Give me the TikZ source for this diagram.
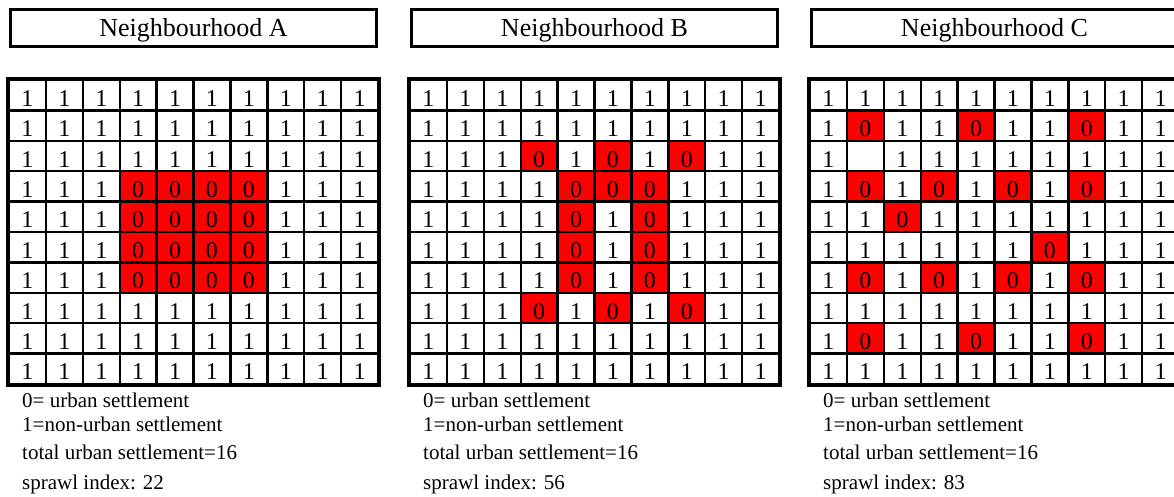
\documentclass[tikz,border=0pt]{standalone}
\usepackage{fontspec}
\setmainfont{Liberation Serif}
\usetikzlibrary{positioning}

\newcommand\celltext[1]{\if x#1\else#1\fi}

\tikzset{
  cell/.style={rectangle, draw, line width=2.4pt, minimum width=36.9pt, minimum height=30.4pt, inner sep=0pt, text height=22pt, text depth=0pt, font=\fontsize{24}{27}\selectfont},
  c0/.style={fill=red},
  c1/.style={},
  cx/.style={},
  frame/.style={draw, line width=3.2pt},
  title/.style={rectangle, draw, line width=3pt, minimum width=366pt, minimum height=37pt, inner sep=0pt, text height=17.4pt, text depth=0pt, font=\fontsize{26}{30}\selectfont},
  note/.style={anchor=base west, inner sep=0pt, font=\fontsize{21}{25}\selectfont}
}

\begin{document}
\begin{tikzpicture}[x=1pt, y=-1pt]
  \useasboundingbox (0,0) rectangle (1174,496);

  % Neighbourhood A
  \foreach \row [count=\r] in {
      {1,1,1,1,1,1,1,1,1,1},
      {1,1,1,1,1,1,1,1,1,1},
      {1,1,1,1,1,1,1,1,1,1},
      {1,1,1,0,0,0,0,1,1,1},
      {1,1,1,0,0,0,0,1,1,1},
      {1,1,1,0,0,0,0,1,1,1},
      {1,1,1,0,0,0,0,1,1,1},
      {1,1,1,1,1,1,1,1,1,1},
      {1,1,1,1,1,1,1,1,1,1},
      {1,1,1,1,1,1,1,1,1,1}}
    \foreach \v [count=\c] in \row
      \node[cell, c\v] (A-\r-\c) at ({9+(\c-0.5)*36.9}, {80+(\r-0.5)*30.4}) {\celltext{\v}};
  \draw[frame] (A-1-1.north west) rectangle (A-10-10.south east);

  % Neighbourhood B
  \foreach \row [count=\r] in {
      {1,1,1,1,1,1,1,1,1,1},
      {1,1,1,1,1,1,1,1,1,1},
      {1,1,1,0,1,0,1,0,1,1},
      {1,1,1,1,0,0,0,1,1,1},
      {1,1,1,1,0,1,0,1,1,1},
      {1,1,1,1,0,1,0,1,1,1},
      {1,1,1,1,0,1,0,1,1,1},
      {1,1,1,0,1,0,1,0,1,1},
      {1,1,1,1,1,1,1,1,1,1},
      {1,1,1,1,1,1,1,1,1,1}}
    \foreach \v [count=\c] in \row
      \node[cell, c\v] (B-\r-\c) at ({410+(\c-0.5)*36.9}, {80+(\r-0.5)*30.4}) {\celltext{\v}};
  \draw[frame] (B-1-1.north west) rectangle (B-10-10.south east);

  % Neighbourhood C
  \foreach \row [count=\r] in {
      {1,1,1,1,1,1,1,1,1,1},
      {1,0,1,1,0,1,1,0,1,1},
      {1,x,1,1,1,1,1,1,1,1},
      {1,0,1,0,1,0,1,0,1,1},
      {1,1,0,1,1,1,1,1,1,1},
      {1,1,1,1,1,1,0,1,1,1},
      {1,0,1,0,1,0,1,0,1,1},
      {1,1,1,1,1,1,1,1,1,1},
      {1,0,1,1,0,1,1,0,1,1},
      {1,1,1,1,1,1,1,1,1,1}}
    \foreach \v [count=\c] in \row
      \node[cell, c\v] (C-\r-\c) at ({810+(\c-0.5)*36.9}, {80+(\r-0.5)*30.4}) {\celltext{\v}};
  \draw[frame] (C-1-1.north west) rectangle (C-10-10.south east);

  % titles and notes
  \foreach \n/\x/\s in {A/9/22, B/410/56, C/810/83} {
    \node[title] (title\n) at ({\x+184.5}, 28) {Neighbourhood \n};
    \node[note] (key0\n) at ({\x+13}, 407) {0= urban settlement};
    \node[note] (key1\n) at ({\x+13}, 431) {1=non-urban settlement};
    \node[note] (total\n) at ({\x+13}, 459) {total urban settlement=16};
    \node[note] (index\n) at ({\x+13}, 489) {sprawl index: \s};
  }
\end{tikzpicture}
\end{document}
